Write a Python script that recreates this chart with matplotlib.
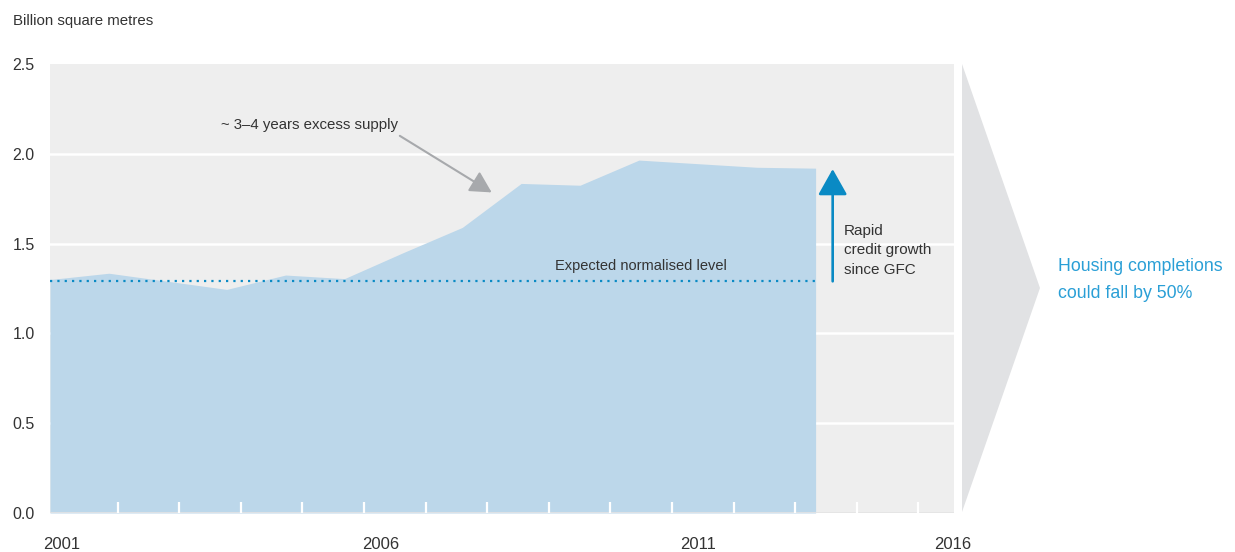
import numpy as np
import matplotlib.pyplot as plt
from matplotlib.patches import Polygon

plt.rcParams['font.family'] = ['Liberation Sans', 'DejaVu Sans']

# Floor space completed per period (billion m2), 2001 onwards
period = np.arange(14)
floor_space = [1.30, 1.335, 1.29, 1.245, 1.325, 1.305, 1.45, 1.59,
               1.835, 1.825, 1.965, 1.945, 1.925, 1.92]
normal_level = 1.29

year_labels = ['2001', '2006', '2011', '2016']
year_label_pos = [0.2, 5.62, 11.0, 15.33]
minor_tick_pos = 1.148 + 1.046 * np.arange(14)

text_col = '#333333'
fill_col = '#bcd7ea'
blue = '#0a8ac4'

fig = plt.figure(figsize=(12.35, 5.52), dpi=100)
ax = fig.add_axes([50 / 1235, 39 / 552, 904 / 1235, 449 / 552])
ax.set_facecolor('#eeeeee')
for s in ax.spines.values():
    s.set_visible(False)

ax.set_xlim(0, 15.35)
ax.set_ylim(0, 2.5)

# white gridlines sit under the area
for g in [0.5, 1.0, 1.5, 2.0]:
    ax.axhline(g, color='white', lw=1.8, zorder=0.5)

ax.fill_between(period, floor_space, 0, color=fill_col, lw=0, zorder=1)
ax.axhline(0, color='#e4e4e4', lw=1.2, zorder=1.2)
ax.plot([period[0], period[-1]], [normal_level, normal_level], color=blue,
        lw=1.6, dashes=(1, 2.3), zorder=3)

ax.set_yticks([0, 0.5, 1.0, 1.5, 2.0, 2.5])
ax.set_yticklabels(['0.0', '0.5', '1.0', '1.5', '2.0', '2.5'])
ax.tick_params(axis='y', length=0, pad=11, labelsize=11.5, labelcolor=text_col)

ax.set_xticks(year_label_pos)
ax.set_xticklabels(year_labels)
ax.tick_params(axis='x', which='major', length=0, pad=17, labelsize=12,
               labelcolor=text_col)
ax.set_xticks(minor_tick_pos, minor=True)
ax.tick_params(axis='x', which='minor', direction='in', length=8, width=1.6,
               color='white')

fig.text(13 / 1235, 1 - 21 / 552, 'Billion square metres', fontsize=10.8,
         color=text_col, va='center')

ax.text(2.9, 2.158, '~ 3\u20134 years excess supply', fontsize=10.8,
        color=text_col, va='center', ha='left')
ax.annotate('', xy=(7.5, 1.785), xytext=(5.94, 2.10),
            arrowprops=dict(arrowstyle='-|>,head_length=0.65,head_width=0.35',
                            mutation_scale=20, color='#a7a9ac', lw=1.5,
                            shrinkA=0, shrinkB=0))

ax.text(10.04, 1.376, 'Expected normalised level', fontsize=10.5,
        color=text_col, ha='center', va='center', zorder=4)

ax.annotate('', xy=(13.29, 1.915), xytext=(13.29, normal_level),
            arrowprops=dict(arrowstyle='-|>,head_length=0.8,head_width=0.45',
                            mutation_scale=20, color=blue, lw=1.9,
                            shrinkA=0, shrinkB=0))
ax.text(13.48, 1.463, 'Rapid\ncredit growth\nsince GFC', fontsize=11,
        color=text_col, ha='left', va='center', linespacing=1.5)

# grey chevron pointing to the outlook text
chevron = Polygon([[962 / 1235, 1 - 64 / 552], [1040 / 1235, 1 - 288 / 552],
                   [962 / 1235, 1 - 512 / 552]], closed=True,
                  transform=fig.transFigure, facecolor='#e1e2e4', edgecolor='none')
fig.add_artist(chevron)

fig.text(1058 / 1235, 1 - 280 / 552, 'Housing completions\ncould fall by 50%',
         fontsize=12.8, color='#2a9fd6', ha='left', va='center', linespacing=1.75)

fig.savefig('out.png', dpi=100)
